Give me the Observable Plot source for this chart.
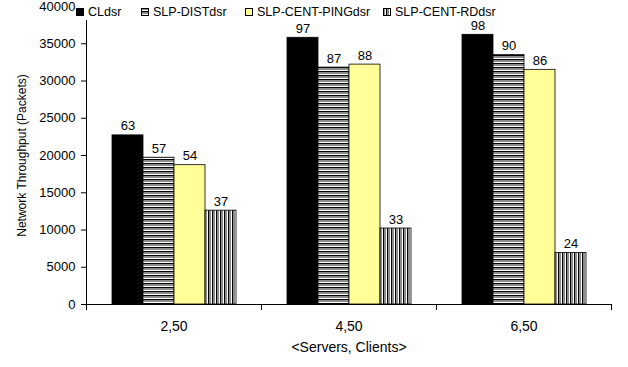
<!DOCTYPE html>
<html>
<head>
<meta charset="utf-8">
<script src="https://cdn.jsdelivr.net/npm/d3@7"></script>
<script src="https://cdn.jsdelivr.net/npm/@observablehq/plot@0.6"></script>
<style>
  body { margin: 0; background: #fff; }
  #wrap { position: relative; width: 628px; height: 367px; font-family: Arial, "Liberation Sans", sans-serif; }
  #legend { position: absolute; top: 0; left: 76px; height: 20px; width: 432px; font-size: 12.5px; color: #000; z-index: 2; background: #fff; }
  .item { position: absolute; top: 4px; display: flex; align-items: center; height: 16px; }
  .item svg { margin-right: 4px; }
</style>
</head>
<body>
<div id="wrap"><div id="legend"></div></div>
<script>
const groups = ["2,50", "4,50", "6,50"];
const series = ["CLdsr", "SLP-DISTdsr", "SLP-CENT-PINGdsr", "SLP-CENT-RDdsr"];
const CLdsr = [22700, 35800, 36200];
const SLPDIST = [19700, 31800, 33500];
const SLPPING = [18700, 32200, 31500];
const SLPRD = [12600, 10200, 6900];
const labCL = [63, 97, 98];
const labDIST = [57, 87, 90];
const labPING = [54, 88, 86];
const labRD = [37, 33, 24];
const yTicks = [0, 5000, 10000, 15000, 20000, 25000, 30000, 35000, 40000];
const fills = ["#000000", "url(#hstripe)", "#ffff99", "url(#vstripe)"];
const legendLeft = [0, 65, 169, 307];

const values = [CLdsr, SLPDIST, SLPPING, SLPRD];
const labels = [labCL, labDIST, labPING, labRD];
const data = [];
groups.forEach((g, gi) => series.forEach((s, si) => data.push({group: g, series: s, value: values[si][gi], label: labels[si][gi]})));

const svg = Plot.plot({
  width: 628,
  height: 367,
  marginLeft: 85,
  marginRight: 16,
  marginTop: 6,
  marginBottom: 63,
  style: {fontFamily: "Arial, 'Liberation Sans', sans-serif", fontSize: "13px", color: "#000", background: "#fff"},
  fx: {domain: groups, padding: 0},
  x: {domain: series, paddingInner: 0, paddingOuter: 0.745, axis: null},
  y: {domain: [0, 40000]},
  color: {domain: series, range: fills},
  marks: [
    Plot.barY(data, {fx: "group", x: "series", y: "value", fill: "series", stroke: "#000", strokeWidth: 0.8}),
    Plot.text(data, {fx: "group", x: "series", y: "value", text: "label", lineAnchor: "bottom", dy: -5, fontSize: 13}),
    Plot.axisY({ticks: yTicks, tickSize: 5, tickPadding: 6, tickFormat: d => String(d), label: null, fontSize: 13}),
    Plot.axisFx({anchor: "bottom", tickSize: 0, tickPadding: 17, label: null, fontSize: 14}),
    Plot.frame({anchor: "left", facet: "super", stroke: "#000"}),
    Plot.frame({anchor: "bottom", facet: "super", stroke: "#000"}),
    Plot.frame({anchor: "left", insetTop: 298, insetBottom: -5, stroke: "#000"}),
    Plot.frame({anchor: "right", insetTop: 298, insetBottom: -5, stroke: "#000"}),
    Plot.text(["Network Throughput (Packets)"], {frameAnchor: "left", facet: "super", rotate: -90, textAnchor: "middle", dx: -64, fontSize: 12}),
    Plot.text(["<Servers, Clients>"], {frameAnchor: "bottom", facet: "super", textAnchor: "middle", dy: 47, fontSize: 14})
  ]
});

const ns = "http://www.w3.org/2000/svg";
function makePatterns(target) {
  const defs = document.createElementNS(ns, "defs");
  defs.innerHTML = `
    <pattern id="hstripe" patternUnits="userSpaceOnUse" width="4" height="4">
      <rect width="4" height="4" fill="#8c8c8c"/>
      <rect y="2" width="4" height="1" fill="#ffffff"/>
      <rect y="3" width="4" height="1" fill="#000000"/>
    </pattern>
    <pattern id="vstripe" patternUnits="userSpaceOnUse" width="4" height="4">
      <rect width="4" height="4" fill="#8c8c8c"/>
      <rect x="2" width="1" height="4" fill="#ffffff"/>
      <rect x="3" width="1" height="4" fill="#000000"/>
    </pattern>`;
  target.insertBefore(defs, target.firstChild);
}
makePatterns(svg);
document.getElementById("wrap").appendChild(svg);

const legend = document.getElementById("legend");
series.forEach((s, i) => {
  const item = document.createElement("div");
  item.className = "item";
  item.style.left = legendLeft[i] + "px";
  const ic = document.createElementNS(ns, "svg");
  ic.setAttribute("width", 8);
  ic.setAttribute("height", 8);
  ic.innerHTML = `<rect x="0.5" y="0.5" width="7" height="7" fill="${fills[i]}" stroke="#000" stroke-width="1"/>`;
  item.appendChild(ic);
  const t = document.createElement("span");
  t.textContent = s;
  item.appendChild(t);
  legend.appendChild(item);
});
</script>
</body>
</html>
